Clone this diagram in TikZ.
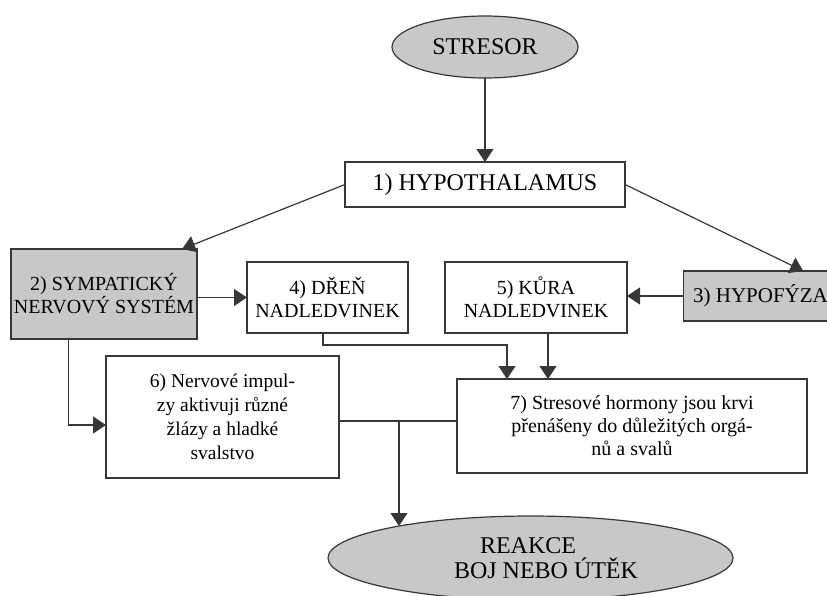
\documentclass[tikz,border=0pt]{standalone}
\usepackage{fontspec}
\setmainfont{Liberation Serif}
\usetikzlibrary{arrows.meta,shapes.geometric,calc}
\definecolor{boxgray}{RGB}{200,200,200}
\definecolor{linegray}{RGB}{55,55,55}
\begin{document}
\begin{tikzpicture}[x=1pt,y=-1pt,
  box/.style={draw=linegray,line width=1.2pt,fill=white,rectangle,inner sep=0pt,outer sep=0pt,align=center,font=\fontsize{20}{23}\selectfont},
  graybox/.style={box,fill=boxgray},
  oval/.style={draw=linegray,line width=1.2pt,fill=boxgray,ellipse,inner sep=0pt,outer sep=0pt,align=center,font=\fontsize{24}{25}\selectfont},
  arr/.style={draw=linegray,line width=1.2pt,-{Triangle[width=17pt,length=13pt]}},
  conn/.style={draw=linegray,line width=1.2pt}]
\useasboundingbox (0,0) rectangle (827,595);

\node[oval,minimum width=186pt,minimum height=62pt] (stresor) at (485,47) {STRESOR};
\node[box,minimum width=280pt,minimum height=45pt,font=\fontsize{24}{26}\selectfont] (hypo) at (485,184.5) {1) HYPOTHALAMUS};
\node[graybox,minimum width=186pt,minimum height=90pt] (symp) at (104,294) {2) SYMPATICKÝ\\NERVOVÝ SYSTÉM};
\node[box,minimum width=161pt,minimum height=71pt] (dren) at (327.5,297.5) {4) DŘEŇ\\NADLEDVINEK};
\node[box,minimum width=182pt,minimum height=71pt] (kura) at (536,297.5) {5) KŮRA\\NADLEDVINEK};
\node[graybox,minimum width=141pt,minimum height=50pt,font=\fontsize{21}{23}\selectfont] (hypof) at (755.5,296) {\hspace*{10pt}3) HYPOFÝZA};
\node[box,minimum width=233pt,minimum height=122pt,font=\fontsize{19.5}{24}\selectfont] (six) at (222.5,417) {6) Nervové impul-\\zy aktivuji různé\\žlázy a hladké\\svalstvo};
\node[box,minimum width=350pt,minimum height=94pt] (seven) at (632,426) {7) Stresové hormony jsou krvi\\přenášeny do důležitých orgá-\\nů a svalů};
\node[oval,minimum width=405pt,minimum height=84pt] (reakce) at (530.5,558) {REAKCE\hspace*{5pt}\\\hspace*{31pt}BOJ NEBO ÚTĚK};

\draw[arr] (stresor.south) -- (hypo.north);
\draw[arr] (hypo.west) -- ($(symp.north west)!0.92!(symp.north east)$);
\draw[arr] (hypo.east) -- ($(hypof.north west)!0.83!(hypof.north east)$);
\draw[arr] (symp.east |- dren.west) -- (dren.west);
\draw[arr] (hypof.west) -- (hypof.west -| kura.east);
\draw[arr] ($(symp.south west)!0.31!(symp.south east)$) |- ([yshift=-8pt]six.west);
\draw[arr] ([xshift=-4.5pt]dren.south) -- ++(0,12) -| ([xshift=-125pt]seven.north);
\draw[arr] ([xshift=12pt]kura.south) -- ([xshift=12pt]kura.south |- seven.north);
\draw[conn] ([yshift=-4pt]six.east) -- ([yshift=-4pt]six.east -| seven.west);
\coordinate (junc) at (399,421);
\coordinate (rtop) at (399,526);
\draw[arr] (junc) -- (rtop);
\end{tikzpicture}
\end{document}
